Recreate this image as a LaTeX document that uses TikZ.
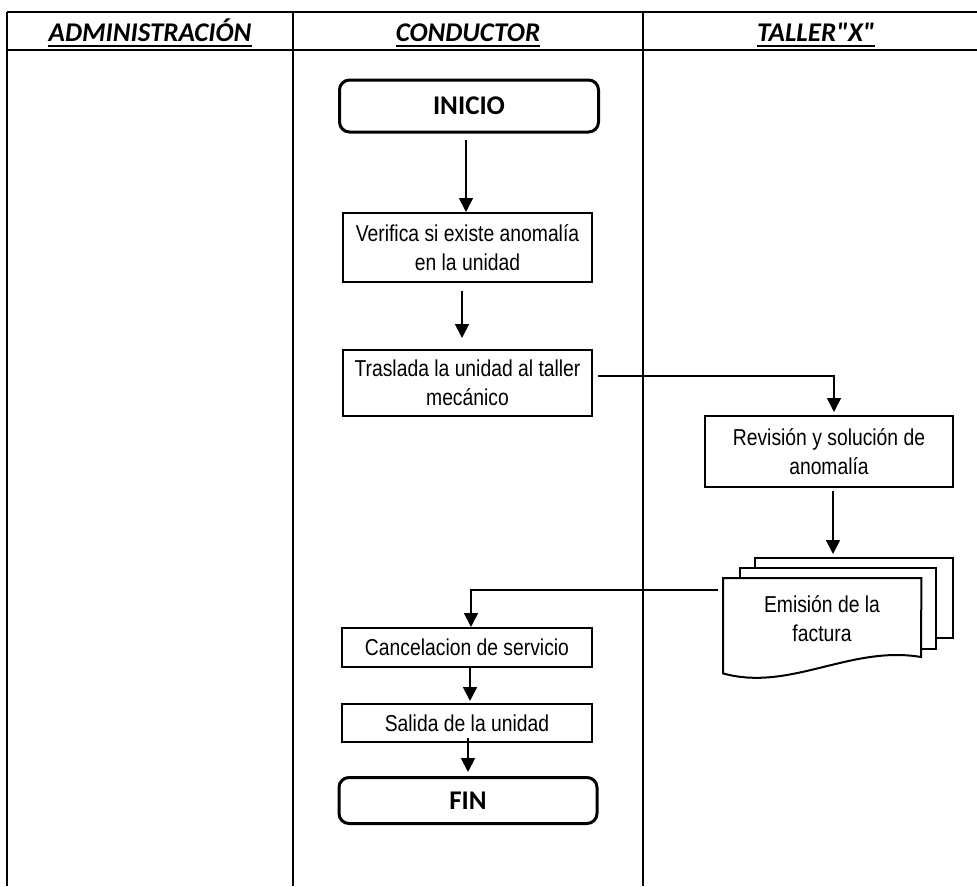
\documentclass[tikz,border=0pt]{standalone}
\usepackage{fontspec}
\setmainfont{Liberation Sans}
\newfontfamily\boxfont{Liberation Sans}[FakeStretch=0.84]
\newfontfamily\calfont{Carlito}
\usetikzlibrary{arrows.meta,calc}
\begin{document}
\begin{tikzpicture}[x=1pt,y=-1pt,
  frame/.style={line width=2pt},
  hdr/.style={inner sep=0pt, anchor=base, font=\calfont\bfseries\itshape\fontsize{27}{30}\selectfont},
  uline/.style={line width=2pt},
  procbox/.style={draw, line width=2pt, fill=white, inner sep=0pt, align=center,
    font=\boxfont\fontsize{23}{29}\selectfont},
  term/.style={draw, line width=3pt, rounded corners=10pt, inner sep=0pt,
    font=\calfont\bfseries\fontsize{27}{30}\selectfont},
  sheet/.style={draw, line width=2pt, fill=white, inner sep=0pt},
  arr/.style={line width=1.8pt, -{Triangle[length=14pt,width=14pt]}},
  conn/.style={line width=1.8pt}]
\useasboundingbox (0,0) rectangle (977,886);
% frame
\draw[frame] (7,12) -- (977,12);
\draw[frame] (7,50) -- (977,50);
\draw[frame] (7,12) -- (7,886);
\draw[frame] (293,12) -- (293,886);
\draw[frame] (643,12) -- (643,886);
% headers
\node[hdr] (hadm) at (150,41) {ADMINISTRACIÓN};
\node[hdr] (hcon) at (468,41) {CONDUCTOR};
\node[hdr] (htal) at (816,41) {TALLER"X"};
\foreach \h in {hadm,hcon,htal}
  \draw[uline] ([yshift=-5pt]\h.base west) -- ([yshift=-5pt]\h.base east);
% nodes
\node[term, minimum width=259, minimum height=52] (inicio) at (469,106) {INICIO};
\node[procbox, minimum width=249, minimum height=69] (verif) at (467.5,247.5) {Verifica si existe anomalía\\en la unidad};
\node[procbox, minimum width=249, minimum height=66] (trasl) at (467.5,383) {Traslada la unidad al taller\\mecánico};
\node[procbox, minimum width=248, minimum height=71] (revis) at (829,451.5) {Revisión y solución de\\anomalía};
\node[sheet, minimum width=198, minimum height=80] (back) at (854,598) {};
\node[sheet, minimum width=196, minimum height=81] (mid) at (838,608.5) {};
\node[inner sep=0pt, minimum width=198, minimum height=95, anchor=north west] (front) at (723,578) {};
\draw[line width=2pt, fill=white] (front.north west) -- (front.north east) -- (921,657)
  .. controls (850,645) and (790,692) .. (front.south west) -- cycle;
\node[inner sep=0pt, align=center, font=\boxfont\fontsize{23}{29}\selectfont] (emi) at (822,619) {Emisión de la\\factura};
\node[procbox, minimum width=250, minimum height=39] (cancel) at (467,647.5) {Cancelacion de servicio};
\node[procbox, minimum width=250, minimum height=38] (salida) at (467,723) {Salida de la unidad};
\node[term, minimum width=258, minimum height=46] (fin) at (468,800.5) {FIN};
% connectors
\draw[arr, shorten <=6pt] ([xshift=-3pt]inicio.south) -- ([xshift=-3pt]inicio.south |- verif.north);
\draw[arr, shorten <=8pt, shorten >=11pt] ([xshift=-5.5pt]verif.south) -- ([xshift=-5.5pt]verif.south |- trasl.north);
\draw[arr, shorten <=5pt, shorten >=3pt] ([yshift=7pt]trasl.east) -| ([xshift=5pt]revis.north);
\draw[arr, shorten <=3pt, shorten >=3pt] ([xshift=4pt]revis.south) -- ([xshift=4pt]revis.south |- back.north);
\draw[arr, shorten <=5pt] ([yshift=-12pt]front.north west) -| ([xshift=4pt]cancel.north);
\draw[arr, shorten >=2pt] ([xshift=3pt]cancel.south) -- ([xshift=3pt]cancel.south |- salida.north);
\draw[arr, shorten <=-5pt, shorten >=4pt] ([xshift=1pt]salida.south) -- ([xshift=1pt]salida.south |- fin.north);
\end{tikzpicture}
\end{document}
